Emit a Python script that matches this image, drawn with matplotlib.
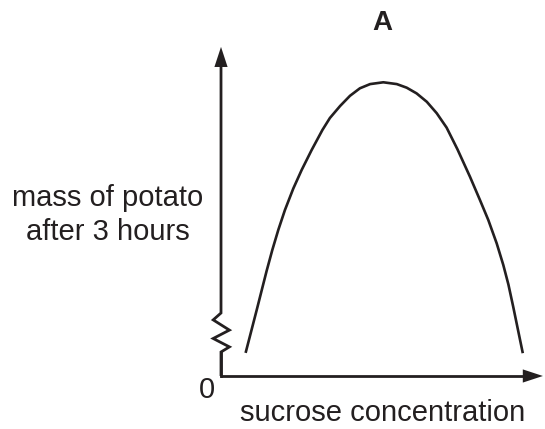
import matplotlib
matplotlib.use("Agg")
import matplotlib.pyplot as plt

# ---- data (arbitrary units) ----
concentration = [0.82, 1.19, 1.36, 1.52, 1.71, 1.91, 2.13, 2.41, 2.69, 3.02, 3.38,
                 3.63, 3.97, 4.30, 4.63, 4.97, 5.41, 5.86, 6.19, 6.52, 6.86, 7.19,
                 7.52, 7.88, 8.30, 8.63, 8.91, 9.19, 9.41, 9.58, 9.74, 10.06]
mass = [0.77, 2.20, 2.87, 3.50, 4.20, 4.87, 5.53, 6.25, 6.87, 7.53, 8.20,
        8.60, 9.00, 9.34, 9.59, 9.73, 9.79, 9.73, 9.61, 9.42, 9.14, 8.76,
        8.28, 7.56, 6.64, 5.87, 5.20, 4.42, 3.70, 3.05, 2.31, 0.76]
title_text = "A"
xlabel_text = "sucrose concentration"
ylabel_text = "mass of potato\nafter 3 hours"
origin_label = "0"

# ---- style ----
INK = "#231f20"
FONT = ["Liberation Sans", "DejaVu Sans"]
plt.rcParams["font.family"] = FONT

fig = plt.figure(figsize=(5.45, 4.29), dpi=100)
fig.patch.set_facecolor("white")
ax = fig.add_axes([0, 0, 1, 1])
ax.set_xlim(-7.367, 10.8)
ax.set_ylim(-1.767, 12.533)
ax.axis("off")

# axes lines with break mark on y axis
y_tip, x_tip = 10.97, 10.73
head_len, head_half = 0.67, 0.22
ax.plot([0, 0, 0.28, -0.26, 0.28, -0.26, 0, 0],
        [0, 0.80, 0.97, 1.25, 1.53, 1.87, 2.10, y_tip - head_len + 0.05],
        color=INK, lw=2.0, solid_joinstyle="miter", solid_capstyle="butt")
ax.plot([0, 0], [0, 0.8], color=INK, lw=2.0, solid_capstyle="projecting")
ax.plot([-0.03, x_tip - head_len + 0.05], [0, 0], color=INK, lw=2.0,
        solid_capstyle="butt")
ax.fill([-head_half, head_half, 0], [y_tip - head_len, y_tip - head_len, y_tip],
        color=INK, lw=0)
ax.fill([x_tip - head_len, x_tip - head_len, x_tip], [-head_half, head_half, 0],
        color=INK, lw=0)

# curve
ax.plot(concentration, mass, color=INK, lw=1.9, solid_joinstyle="round",
        solid_capstyle="butt")

# texts
ax.text(5.37, 11.77, title_text, ha="center", va="center", fontsize=20,
        fontweight="bold", color=INK)
ax.text(-0.48, -0.47, origin_label, ha="center", va="center", fontsize=21,
        color=INK)
ax.text(5.4, -1.23, xlabel_text, ha="center", va="center", fontsize=21,
        color=INK)
ax.text(-3.77, 5.37, ylabel_text, ha="center", va="center", fontsize=21,
        color=INK, linespacing=1.25)

fig.savefig("out.png", dpi=100, facecolor="white")
